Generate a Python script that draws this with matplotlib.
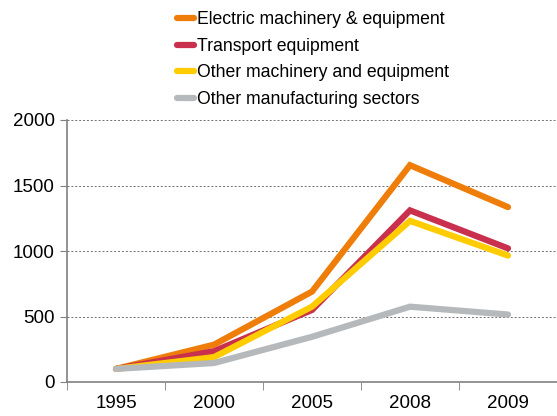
import matplotlib
matplotlib.use('Agg')
import matplotlib.pyplot as plt
import numpy as np

plt.rcParams['font.family'] = ['Liberation Sans', 'DejaVu Sans']

years = ['1995', '2000', '2005', '2008', '2009']
electric = [100, 285, 690, 1655, 1335]
transport = [100, 235, 550, 1310, 1020]
other_machinery = [100, 190, 575, 1230, 965]
other_manuf = [100, 145, 345, 575, 515]

series = [
    ('Electric machinery & equipment', electric, '#EE7D0A'),
    ('Transport equipment', transport, '#C9304E'),
    ('Other machinery and equipment', other_machinery, '#FFCC00'),
    ('Other manufacturing sectors', other_manuf, '#B6B9BB'),
]

fig = plt.figure(figsize=(5.57, 4.16), dpi=100)
ax = fig.add_axes([67 / 557, 1 - 382 / 416, 1 - 67 / 557, (382 - 120) / 416])

x = np.arange(len(years))
for label, vals, color in series:
    ax.plot(x, vals, color=color, lw=4.5, label=label, solid_capstyle='round',
            solid_joinstyle='miter')

ax.set_xlim(-0.5, len(years) - 0.5)
ax.set_ylim(0, 2000)
ax.set_yticks([0, 500, 1000, 1500, 2000])
ax.set_xticks(x)
ax.set_xticklabels(years)
ax.set_xticks(np.arange(-0.5, len(years)), minor=True)
ax.tick_params(axis='x', which='major', length=0, labelsize=13.5, pad=9)
ax.tick_params(axis='x', which='minor', length=6, color='#808080', direction='out')
ax.tick_params(axis='y', length=5, color='#808080', labelsize=13.5, pad=4)

for v in [500, 1000, 1500, 2000]:
    ax.axhline(v, color='#707070', lw=0.7, ls=(0, (2, 2)), zorder=0)

for s in ['top', 'right']:
    ax.spines[s].set_visible(False)
for s in ['left', 'bottom']:
    ax.spines[s].set_color('#808080')
    ax.spines[s].set_linewidth(1.2)

fig.legend(loc='upper left', bbox_to_anchor=(177 / 557, 1 - 11 / 416),
           frameon=False, fontsize=12.7, handlelength=0.95, handletextpad=0.2,
           labelspacing=0.55, borderaxespad=0, borderpad=0)

fig.savefig('out.png', dpi=100)
